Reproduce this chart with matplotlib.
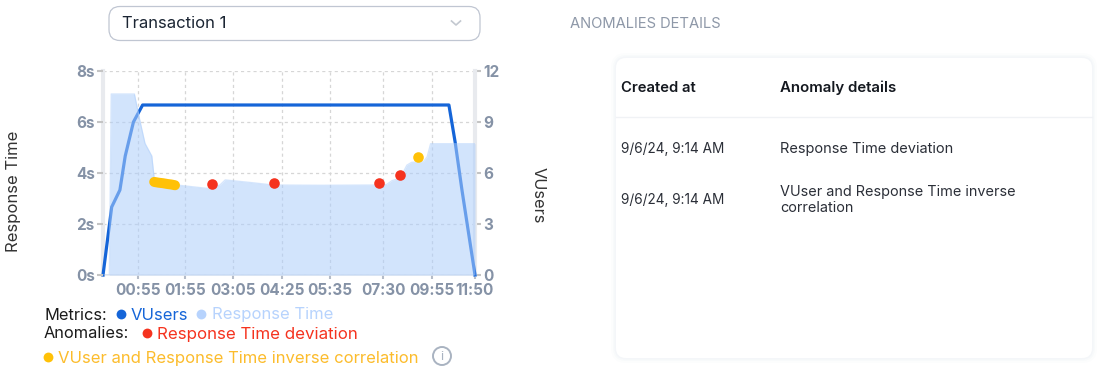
"""
Transaction response time chart with anomalies panel
"""
import matplotlib
matplotlib.use("Agg")
import matplotlib.pyplot as plt
from matplotlib.patches import FancyBboxPatch, Circle

plt.rcParams['font.family'] = ['Inter', 'DejaVu Sans']

# sample index along the time axis
tick_pos = [7.2, 17, 27, 37, 47, 58, 68, 77]
tick_labels = ["00:55", "01:55", "03:05", "04:25", "05:35", "07:30", "09:55", "11:50"]

rt_x = [0, 1.3, 1.7, 6.5, 7.7, 8.7, 10.1, 10.6, 15.3, 21.5, 24.2, 25.3, 30.5, 35.2,
        45, 57.4, 58.7, 59.8, 61.5, 62.9, 63.9, 66.3, 67.1, 67.8, 77]
rt_y = [0, 0, 7.1, 7.1, 6.0, 5.16, 4.67, 3.79, 3.53, 3.4, 3.53, 3.73, 3.63, 3.53,
        3.52, 3.53, 3.55, 3.7, 3.8, 4.31, 4.42, 4.44, 4.64, 5.15, 5.15]

vu_x = [0, 1.8, 3.5, 4.6, 6.3, 8.2, 71.6, 72.9, 74.3, 77]
vu_y = [0, 4.0, 5.0, 7.0, 9.0, 10, 10, 7.8, 5.0, 0]

dev_x = [22.6, 35.3, 57.1, 61.5]
dev_y = [3.57, 3.61, 3.61, 3.92]

corr_x = [10.6, 11.5, 12.4, 13.3, 14.1, 14.9, 65.2]
corr_y = [3.65, 3.62, 3.6, 3.57, 3.55, 3.52, 4.63]

table_dates = ["9/6/24, 9:14 AM", "9/6/24, 9:14 AM"]
table_details = ["Response Time deviation", "VUser and Response Time inverse\ncorrelation"]

BLUE = "#1565d8"
AREA = "#adcefb"
LIGHT = "#b7d3fd"
RED = "#f5331f"
YELLOW = "#ffc107"
TICK = "#8592a6"
BAND = "#e8eaee"

fig = plt.figure(figsize=(10.98, 3.7), dpi=100, facecolor="white")

# page layer in pixels, for the dropdown, legend and table
ui = fig.add_axes([0, 0, 1, 1], zorder=0)
ui.set_xlim(0, 1098)
ui.set_ylim(370, 0)
ui.axis("off")

ax_vu = fig.add_axes([103/1098, 1-275/370, 372/1098, 204/370], zorder=1)
ax_rt = ax_vu.twinx()
ax_rt.set_zorder(2)
ax_vu.patch.set_visible(False)
ax_rt.patch.set_visible(False)

ax_vu.set_xlim(0, 77)

# left scale is the response time, right scale is vusers
ax_vu.yaxis.tick_right()
ax_rt.yaxis.tick_left()
ax_vu.set_yticks([0, 3, 6, 9, 12])
ax_vu.set_ylim(0, 12)
ax_vu.set_yticklabels(["0", "3", "6", "9", "12"])
ax_rt.set_ylim(0, 8)
ax_rt.set_yticks([0, 2, 4, 6, 8])
ax_rt.set_yticklabels(["0s", "2s", "4s", "6s", "8s"])
ax_vu.set_xticks(tick_pos)
ax_vu.set_xticklabels(tick_labels)

ax_vu.grid(True, color="#d6d6d6", lw=0.9, linestyle=(0, (2.5, 2.5)))
ax_vu.set_axisbelow(True)
ax_vu.plot(vu_x, vu_y, color=BLUE, lw=2.3, solid_joinstyle="round", clip_on=False, zorder=4)

ax_rt.fill_between(rt_x, rt_y, 0, color=AREA, alpha=0.55, linewidth=0, zorder=2)
ax_rt.plot(rt_x, rt_y, color=AREA, alpha=0.5, lw=0.9, zorder=2)
ax_rt.scatter(dev_x, dev_y, s=58, color=RED, linewidths=0, zorder=5)
ax_rt.plot(corr_x[:6], corr_y[:6], color=YELLOW, lw=7.2, solid_capstyle="round", zorder=5)
ax_rt.scatter(corr_x[6:], corr_y[6:], s=58, color=YELLOW, linewidths=0, zorder=5)

for a in (ax_vu, ax_rt):
    a.tick_params(axis="both", colors=TICK, labelsize=11, width=1.5, length=4, pad=2)
    for label in a.get_xticklabels() + a.get_yticklabels():
        label.set_fontweight(700)
    for s in a.spines.values():
        s.set_visible(False)
ax_vu.tick_params(axis="x", color="#b5bcc8", pad=2.5, length=3)
ax_vu.tick_params(axis="y", color="#c4c4c4")
ax_rt.tick_params(axis="y", color="#c4c4c4")
ax_rt.tick_params(axis="x", bottom=False, labelbottom=False)
for side, width in [("left", 3), ("right", 3), ("bottom", 1.2)]:
    ax_vu.spines[side].set_visible(True)
    ax_vu.spines[side].set_color(BAND)
    ax_vu.spines[side].set_linewidth(width)

ui.text(14, 191, "Response Time", rotation=90, ha="center", va="center", fontsize=12, color="#333333")
ui.text(538, 195, "VUsers", rotation=270, ha="center", va="center", fontsize=11.8, color="#333333")

# dropdown
ui.add_patch(FancyBboxPatch((109, 6.5), 371, 34, boxstyle="round,pad=0,rounding_size=11",
                            fc="white", ec="#c0c6d2", lw=0.9))
ui.text(122, 24, "Transaction 1", fontsize=12, color="#1b2533", va="center")
ui.plot([451.5, 456, 460.5], [21, 25, 21], color="#c3c8d0", lw=1.2)
ui.text(570, 24, "ANOMALIES DETAILS", fontsize=10.6, color="#8e98a8", va="center")

# legend
ui.text(44, 315, "Metrics:", fontsize=11.8, color="#1a1a1a", va="center")
ui.scatter([121], [314], s=50, color=BLUE, linewidths=0)
ui.text(131, 315, "VUsers", fontsize=12, color=BLUE, va="center")
ui.scatter([201], [314], s=50, color=LIGHT, linewidths=0)
ui.text(212, 315, "Response Time", fontsize=12, color=LIGHT, va="center")
ui.text(44, 334, "Anomalies:", fontsize=11.8, color="#1a1a1a", va="center")
ui.scatter([147], [333], s=50, color=RED, linewidths=0)
ui.text(157, 334, "Response Time deviation", fontsize=12.2, color=RED, va="center")
ui.scatter([48], [357], s=50, color=YELLOW, linewidths=0)
ui.text(58, 358, "VUser and Response Time inverse correlation", fontsize=12, color="#fcbc2c", va="center")
ui.add_patch(Circle((442, 356), 9, fc="white", ec="#a9b3c1", lw=1.4))
ui.text(442, 356.5, "i", fontsize=9.5, color="#a9b3c1", ha="center", va="center")

# table card
for pad, alpha in [(5, 0.012), (3, 0.015), (1.5, 0.02)]:
    ui.add_patch(FancyBboxPatch((616-pad, 58-pad), 476+2*pad, 300+2*pad,
                                boxstyle=f"round,pad=0,rounding_size={10+pad}",
                                fc="#3a5a9a", ec="none", alpha=alpha))
ui.add_patch(FancyBboxPatch((616, 58), 476, 300, boxstyle="round,pad=0,rounding_size=10",
                            fc="white", ec="none"))
ui.plot([616, 1092], [116.5, 116.5], color="#f0f2f5", lw=1)
ui.text(621, 88, "Created at", fontsize=10.7, fontweight=600, color="#14181f", va="center")
ui.text(780, 88, "Anomaly details", fontsize=10.8, fontweight=600, color="#14181f", va="center")
ui.text(621, 149, table_dates[0], fontsize=9.8, color="#2b2f38", va="center")
ui.text(780, 149, table_details[0], fontsize=10.5, color="#2b2f38", va="center")
ui.text(621, 200, table_dates[1], fontsize=9.8, color="#2b2f38", va="center")
ui.text(780, 200, table_details[1], fontsize=10.4, color="#2b2f38", va="center", linespacing=1.25)

fig.savefig("out.png", dpi=100)
